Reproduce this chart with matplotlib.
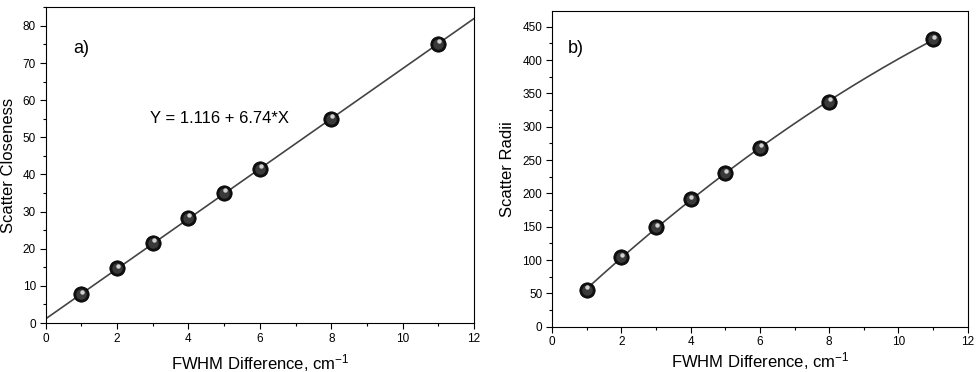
import numpy as np
import matplotlib
matplotlib.use("Agg")
import matplotlib.pyplot as plt
from matplotlib.ticker import MultipleLocator
from matplotlib.transforms import offset_copy

plt.rcParams['font.family'] = ['Liberation Sans', 'DejaVu Sans']
plt.rcParams['mathtext.fontset'] = 'custom'
plt.rcParams['mathtext.rm'] = 'Liberation Sans'
plt.rcParams['mathtext.it'] = 'Liberation Sans'
plt.rcParams['mathtext.default'] = 'regular'

fwhm = [1, 2, 3, 4, 5, 6, 8, 11]
closeness = [7.7, 14.7, 21.5, 28.3, 35.0, 41.6, 55.0, 75.2]
radii = [55, 104, 149, 191, 230, 268, 337, 431]
fit_intercept = 1.116
fit_slope = 6.74

fig = plt.figure(figsize=(9.76, 3.72), dpi=100)
ax1 = fig.add_axes([0.0468, 0.1317, 0.4389, 0.8495])
ax2 = fig.add_axes([0.5656, 0.1218, 0.4259, 0.8494])

def sphere(ax, x, y):
    ax.plot(x, y, 'o', ms=11, mfc='#111111', mec='#000000', mew=0.6, zorder=3)
    ax.plot(x, y, 'o', ms=7.5, mfc='#3a3a3a', mec='none', zorder=4)
    tr = offset_copy(ax.transData, fig=ax.figure, x=0.6, y=2.0, units='points')
    ax.plot(x, y, 'o', ms=3.2, mfc='#d0d0d0', mec='none', zorder=5, transform=tr)

xs = np.array([0, 12])
ax1.plot(xs, fit_intercept + fit_slope * xs, color='#444444', lw=1.2, zorder=2)
sphere(ax1, fwhm, closeness)

coef = np.polyfit(fwhm, radii, 2)
xf = np.linspace(min(fwhm), max(fwhm), 200)
ax2.plot(xf, np.polyval(coef, xf), color='#444444', lw=1.2, zorder=2)
sphere(ax2, fwhm, radii)

for ax, ylim, major, minor, lp in [(ax1, 85.1, 10, 5, 5), (ax2, 474, 50, 25, 1.5)]:
    ax.set_xlim(0, 12)
    ax.set_ylim(0, ylim)
    ax.xaxis.set_major_locator(MultipleLocator(2))
    ax.xaxis.set_minor_locator(MultipleLocator(1))
    ax.yaxis.set_major_locator(MultipleLocator(major))
    ax.yaxis.set_minor_locator(MultipleLocator(minor))
    ax.tick_params(which='major', direction='out', length=4, width=0.8, labelsize=8.5, pad=3)
    ax.tick_params(which='minor', direction='out', length=2.5, width=0.8)
    for s in ax.spines.values():
        s.set_linewidth(0.8)
    ax.set_xlabel('FWHM Difference, cm$^{-1}$', fontsize=12, labelpad=lp)

ax1.set_ylabel('Scatter Closeness', fontsize=12, labelpad=5)
ax2.set_ylabel('Scatter Radii', fontsize=12, labelpad=5)
ax1.text(0.76, 74, 'a)', fontsize=13, va='center')
ax1.text(2.92, 55.2, 'Y = 1.116 + 6.74*X', fontsize=12, va='center')
ax2.text(0.46, 418, 'b)', fontsize=13, va='center')

fig.savefig('out.png', dpi=100)
